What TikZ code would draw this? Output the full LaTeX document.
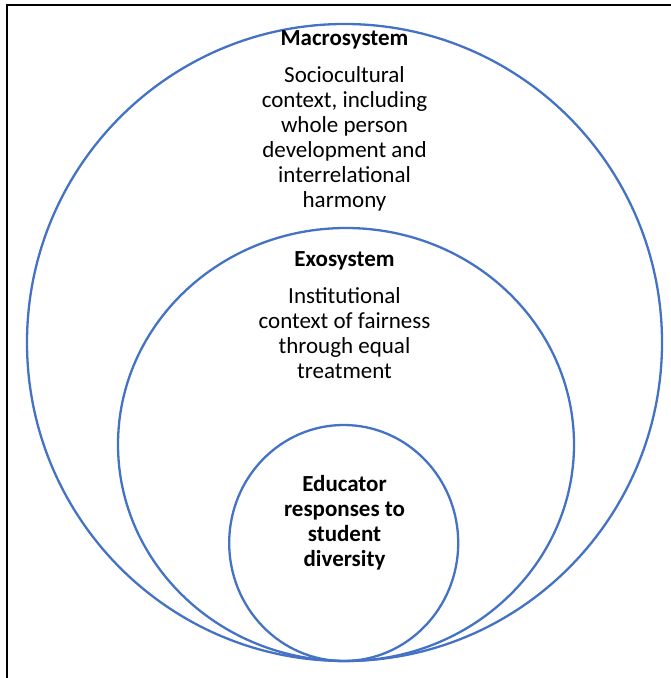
\documentclass[tikz,border=0pt]{standalone}
\usepackage{fontspec}
\setmainfont{Carlito}
\usetikzlibrary{shapes.geometric}
\definecolor{ringblue}{HTML}{4472C4}
\tikzset{
  ring/.style={draw=ringblue, line width=2.3bp, ellipse, inner sep=0pt, outer sep=0pt},
  txt/.style={align=center, inner sep=0pt, anchor=base,
    font=\fontsize{23bp}{25bp}\selectfont},
  head/.style={txt, font=\fontsize{23bp}{25bp}\selectfont\bfseries}
}
\begin{document}
\begin{tikzpicture}[x=1bp, y=-1bp]
\useasboundingbox (0,0) rectangle (671,678);
\draw[line width=2bp] (7,678) -- (7,5) -- (671,5);
\node[ring, minimum width=635bp, minimum height=637bp] (macro) at (344.5,342.5) {};
\node[ring, minimum width=456bp, minimum height=433bp] (exo) at (346,444.5) {};
\node[ring, minimum width=229bp, minimum height=236bp] (micro) at (343.7,543) {};
\node[head] (macrot) at (344.5,45.7) {Macrosystem};
\node[txt] (macrob) at (344.5,207.7) {Sociocultural\\context, including\\whole person\\development and\\interrelational\\harmony};
\node[head] (exot) at (344.5,266.7) {Exosystem};
\node[txt] (exob) at (344.5,378) {Institutional\\context of fairness\\through equal\\treatment};
\node[head] (microt) at (344.5,566.7) {Educator\\responses to\\student\\diversity};
\end{tikzpicture}
\end{document}
